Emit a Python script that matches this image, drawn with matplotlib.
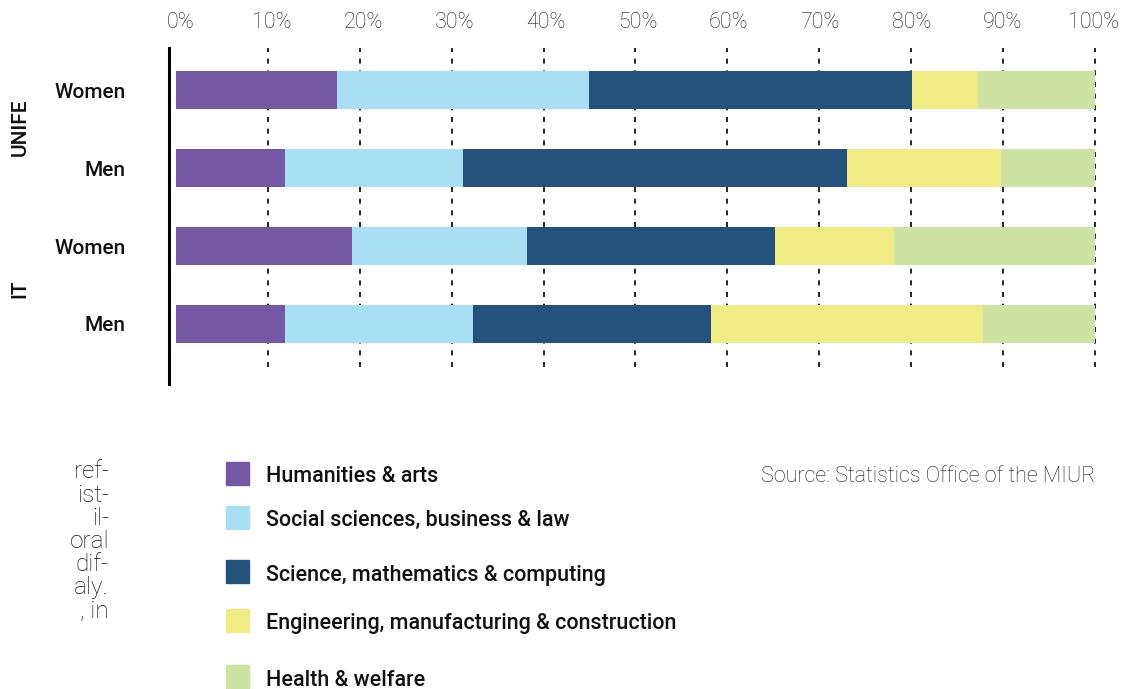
import matplotlib
matplotlib.use("Agg")
import matplotlib.pyplot as plt
from matplotlib.patches import Rectangle
import numpy as np

plt.rcParams['font.family'] = ['Roboto', 'DejaVu Sans']

# Data (% of graduates by field), rows top to bottom
rows = ['Women', 'Men', 'Women', 'Men']
fields = ['Humanities & arts',
          'Social sciences, business & law',
          'Science, mathematics & computing',
          'Engineering, manufacturing & construction',
          'Health & welfare']
humanities = [17.5, 11.9, 19.2, 11.9]
social = [27.4, 19.3, 19.0, 20.4]
science = [35.2, 41.8, 27.0, 25.9]
engineering = [7.2, 16.8, 12.9, 29.6]
health = [12.7, 10.2, 21.9, 12.2]
colors = ['#7657a4', '#a9dff4', '#24527a', '#f0eb85', '#cde2a3']
ticks = np.arange(0, 101, 10)
side_text = ['ref-', 'ist-', 'il-', 'oral', 'dif-', 'aly.', ', in']

W, H = 1125, 689
fig = plt.figure(figsize=(W / 100, H / 100), dpi=100)

# axes box in pixels: left 169, right 1100, top 48, bottom 384
ax = fig.add_axes([169 / W, 1 - 384 / H, (1100 - 169) / W, (384 - 48) / H])
ax.set_xlim(-0.76, 100.55)
ax.set_ylim(3.77, -0.54)

y = np.arange(len(rows))
series = [humanities, social, science, engineering, health]
left = np.zeros(len(rows))
for vals, c in zip(series, colors):
    ax.barh(y, vals, left=left, height=0.49, color=c, zorder=2)
    left += np.array(vals)

# dashed grid lines
ax.vlines(ticks[1:], -0.55, 3.62, colors='black', linestyles=(0, (3, 4)),
          linewidth=1.2, zorder=1)

for s in ['top', 'right', 'bottom']:
    ax.spines[s].set_visible(False)
ax.spines['left'].set_linewidth(2.2)
ax.spines['left'].set_color('black')

# tick labels sit a little right of the grid lines in the original
ax.xaxis.tick_top()
ax.set_xticks(0.54 + ticks * 0.9936)
ax.set_xticklabels([f'{t}%' for t in ticks], fontsize=15.5,
                   fontweight='light', color='#1a1a1a')
ax.tick_params(axis='x', length=0, pad=11)
ax.set_yticks(y)
ax.set_yticklabels(rows, fontsize=15, fontweight='medium', color='#111111')
ax.tick_params(axis='y', length=0, pad=31)

# group labels
for g, pos in [('UNIFE', 0.48), ('IT', 2.55)]:
    yy = ax.transData.transform((0, pos))[1]
    fig.text(20 / W, yy / H, g, rotation=90, ha='center', va='center',
             fontsize=15, fontweight='medium', color='#111111')

# manual legend
sq_centers = [473.5, 517.5, 571.5, 620.5, 676.5]
txt_centers = [476.5, 520.5, 575, 623.5, 680]
for lab, c, sy, ty in zip(fields, colors, sq_centers, txt_centers):
    fig.patches.append(Rectangle((226 / W, 1 - (sy + 11.5) / H), 23 / W, 23 / H,
                                 transform=fig.transFigure, color=c))
    fig.text(266 / W, 1 - ty / H, lab, ha='left', va='center', fontsize=15.5,
             fontweight='medium', color='#111111')

fig.text(1095 / W, 1 - 477 / H, 'Source: Statistics Office of the MIUR',
         ha='right', va='center', fontsize=15.5, fontweight='light',
         color='#1a1a1a')

# clipped body text from the page on the left
for i, s in enumerate(side_text):
    fig.text(109 / W, 1 - (472 + i * 23.1) / H, s, ha='right', va='center',
             fontsize=17.5, fontweight='light', color='#111111')

fig.savefig('out.png', dpi=100)
